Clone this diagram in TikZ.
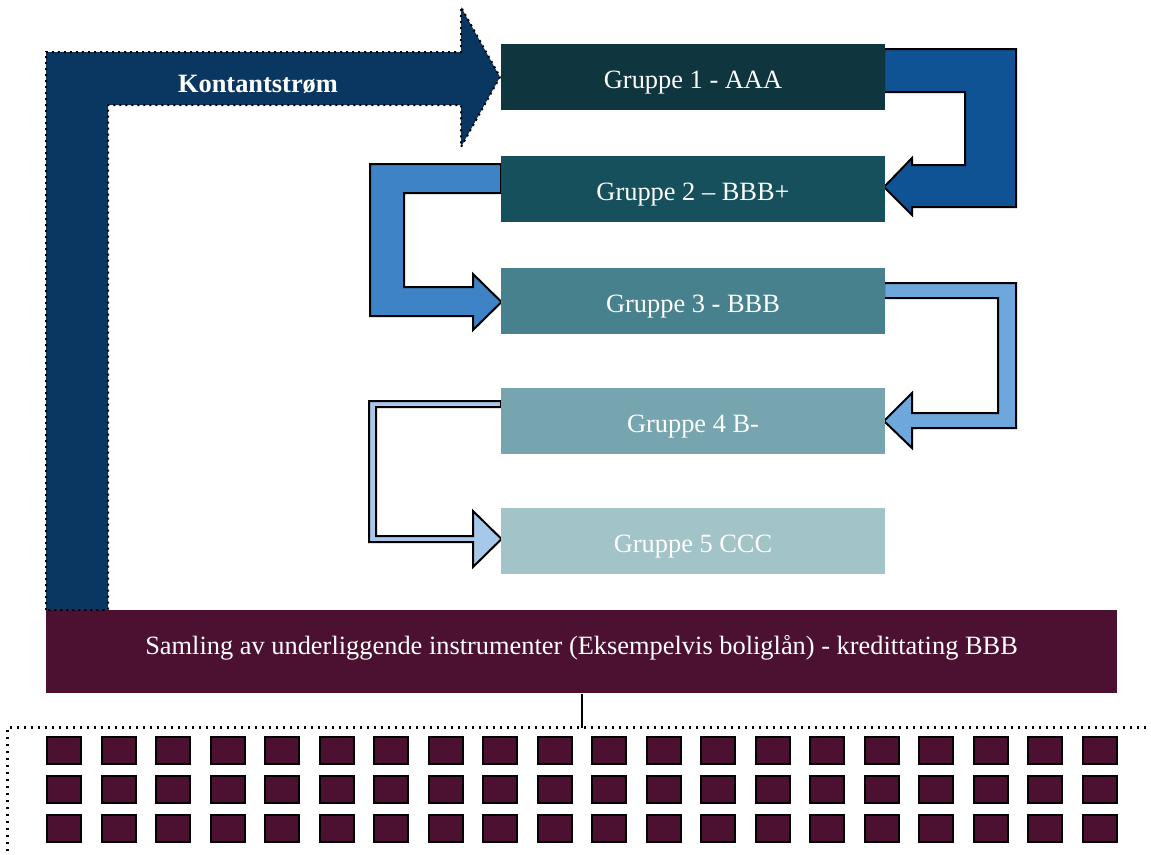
\documentclass[tikz,border=0pt]{standalone}
\usepackage{fontspec}
\setmainfont{Liberation Serif}
\definecolor{gA}{HTML}{0F353F}
\definecolor{gB}{HTML}{15505C}
\definecolor{gC}{HTML}{47818D}
\definecolor{gD}{HTML}{77A5AF}
\definecolor{gE}{HTML}{A2C3C8}
\definecolor{pool}{HTML}{4C1130}
\definecolor{flow}{HTML}{0A3762}
\definecolor{arA}{HTML}{0F5394}
\definecolor{arB}{HTML}{3E83C6}
\definecolor{arC}{HTML}{6DA7DB}
\definecolor{arD}{HTML}{A6C9EA}
\begin{document}
\begin{tikzpicture}[x=1pt,y=-1pt,
  txt/.style={text=white, font=\fontsize{26.4}{30}\selectfont},
  grp/.style={txt, minimum width=384pt, minimum height=66pt, inner sep=0pt,
    text height=22pt, text depth=0pt},
  blockarrow/.style={draw=black, line width=2pt, line join=miter},
  flowedge/.style={draw=black, line width=2pt, dash pattern=on 2pt off 4pt},
  poolframe/.style={draw=black, line width=2.2pt, dash pattern=on 2.2pt off 4.8pt},
  loan/.style={fill=pool, draw=black, line width=2pt, minimum width=34pt,
    minimum height=27pt, inner sep=0pt}
]
\useasboundingbox (0,0) rectangle (1151,854);
\clip (0,0) rectangle (1151,854);

% block arrows between the rating groups
\path[blockarrow, fill=arA] (884,49) -- (1016,49) -- (1016,207) -- (912,207)
  -- (912,215) -- (884,187) -- (912,158) -- (912,165) -- (965,165)
  -- (965,92) -- (884,92) -- cycle;
\path[blockarrow, fill=arB] (501,164) -- (370,164) -- (370,316) -- (473,316)
  -- (473,330) -- (501.5,302) -- (473,274) -- (473,287) -- (404,287)
  -- (404,193) -- (501,193) -- cycle;
\path[blockarrow, fill=arC] (884,283) -- (1016,283) -- (1016,428) -- (912,428)
  -- (912,448) -- (884,421) -- (912,393) -- (912,413) -- (998,413)
  -- (998,298) -- (884,298) -- cycle;
\path[blockarrow, fill=arD] (501,401) -- (369,401) -- (369,542) -- (473,542)
  -- (473,567) -- (501.5,539) -- (473,511) -- (473,536) -- (376,536)
  -- (376,407) -- (501,407) -- cycle;

% rating groups
\node[grp, fill=gA] (g1) at (693,77.3) {Gruppe 1 - AAA};
\node[grp, fill=gB] (g2) at (693,189.3) {Gruppe 2 – BBB+};
\node[grp, fill=gC] (g3) at (693,301.3) {Gruppe 3 - BBB};
\node[grp, fill=gD] (g4) at (693,421.3) {Gruppe 4 B-};
\node[grp, fill=gE] (g5) at (693,541.3) {Gruppe 5 CCC};

% underlying pool
\node[txt, fill=pool, minimum width=1071pt, minimum height=83.3pt, inner sep=0pt,
  text height=5pt, text depth=0pt] (samling) at (581.5,651.7)
  {Samling av underliggende instrumenter (Eksempelvis boliglån) - kredittating BBB};

% cash flow arrow from the pool to the top group
\path[flowedge, fill=flow] (46,610) -- (46,52) -- (461,52) -- (461,7)
  -- (500,77) -- (461,147) -- (461,105) -- (108,105) -- (108,610) -- cycle;
\node[text=white, font=\bfseries\fontsize{26.4}{30}\selectfont, anchor=base,
  inner sep=0pt] (kstrom) at (258,92.3) {Kontantstrøm};

% individual loans
\coordinate (pooltop) at (581.5,727.5);
\draw[line width=2pt] (samling.south) -- (pooltop);
\draw[poolframe] (7.5,900) -- (7.5,727.5) -- (1200,727.5);
\foreach \i in {0,...,19}
  \foreach \j/\y in {0/750,1/789.3,2/828.6}
    \node[loan] (sq-\i-\j) at ({64+54.51*\i},\y) {};
\end{tikzpicture}
\end{document}
